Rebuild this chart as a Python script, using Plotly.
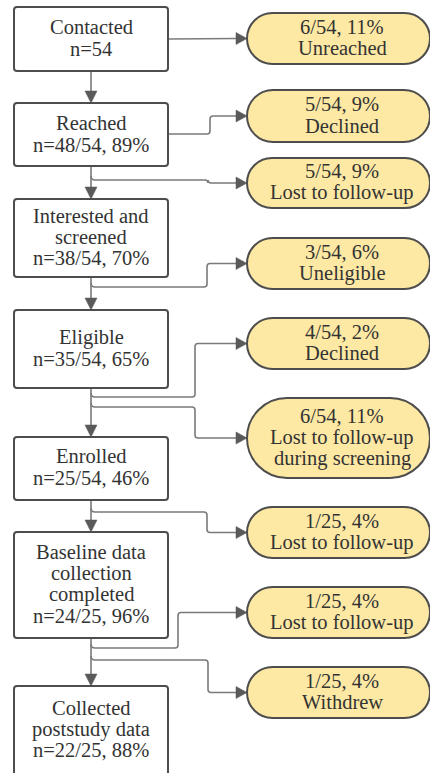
import plotly.graph_objects as go

# ---------------- data ----------------
main_labels = [
    ["Contacted", "n=54"],
    ["Reached", "n=48/54, 89%"],
    ["Interested and", "screened", "n=38/54, 70%"],
    ["Eligible", "n=35/54, 65%"],
    ["Enrolled", "n=25/54, 46%"],
    ["Baseline data", "collection", "completed", "n=24/25, 96%"],
    ["Collected", "poststudy data", "n=22/25, 88%"],
]
side_labels = [
    ["6/54, 11%", "Unreached"],
    ["5/54, 9%", "Declined"],
    ["5/54, 9%", "Lost to follow-up"],
    ["3/54, 6%", "Uneligible"],
    ["4/54, 2%", "Declined"],
    ["6/54, 11%", "Lost to follow-up", "during screening"],
    ["1/25, 4%", "Lost to follow-up"],
    ["1/25, 4%", "Lost to follow-up"],
    ["1/25, 4%", "Withdrew"],
]
# which main box each exclusion branches from
side_source = [0, 1, 1, 2, 3, 3, 4, 5, 5]

# ---------------- layout (pixel-like units) ----------------
W, H = 430, 773
box_x = (14, 168)
box_y = [(7, 71), (103, 166), (199, 277), (310, 388), (437, 500), (532, 638), (686, 778)]
text_cy = [38, 134, 237, 348, 467, 584, 729]
pill_x = (247, 430)
pill_y = [(13, 64), (90, 142), (158, 208), (238, 289), (318, 369), (398, 478), (507, 558), (587, 638), (667, 718)]
# connector: (start mode, start y, elbow x)
conn = [("side", 39, None), ("side", 134, 210), ("trunk", 180, 208), ("trunk", 287, 207),
        ("trunk", 397, 195), ("trunk", 407, 195), ("trunk", 512, 207), ("trunk", 648, 178),
        ("trunk", 660, 208)]

LINE = "#7a7a7a"
HEAD = "#5a5a5a"
BORDER = "#4d4d4d"
PILL_FILL = "#fde8a4"
TXT = "#333333"
FONT = "Liberation Serif"
FS = 20.5
LH = 21.2

shapes = []
trunk_x = (box_x[0] + box_x[1]) / 2


def rrect(x0, y0, x1, y1, r):
    return (f"M {x0+r},{y0} L {x1-r},{y0} Q {x1},{y0} {x1},{y0+r} L {x1},{y1-r} "
            f"Q {x1},{y1} {x1-r},{y1} L {x0+r},{y1} Q {x0},{y1} {x0},{y1-r} "
            f"L {x0},{y0+r} Q {x0},{y0} {x0+r},{y0} Z")


def stadium(x0, y0, x1, y1):
    r = (y1 - y0) / 2
    k = 0.5523 * r
    cy = (y0 + y1) / 2
    return (f"M {x0+r},{y0} L {x1-r},{y0} C {x1-r+k},{y0} {x1},{cy-k} {x1},{cy} "
            f"C {x1},{cy+k} {x1-r+k},{y1} {x1-r},{y1} L {x0+r},{y1} "
            f"C {x0+r-k},{y1} {x0},{cy+k} {x0},{cy} C {x0},{cy-k} {x0+r-k},{y0} {x0+r},{y0} Z")


def head_right(tx, ty):
    return f"M {tx},{ty} L {tx-11},{ty-6} L {tx-11},{ty+6} Z"


def head_down(tx, ty):
    return f"M {tx},{ty} L {tx-6},{ty-12} L {tx+6},{ty-12} Z"


# trunk arrows between main boxes
for i in range(len(box_y) - 1):
    y0 = box_y[i][1]
    y1 = box_y[i + 1][0]
    shapes.append(dict(type="path", path=f"M {trunk_x},{y0} L {trunk_x},{y1-11}",
                       line=dict(color=LINE, width=1.6)))
    shapes.append(dict(type="path", path=head_down(trunk_x, y1), fillcolor=HEAD,
                       line=dict(color=HEAD, width=0.5)))

# branch connectors
for j, (mode, sy, ex) in enumerate(conn):
    ty = (pill_y[j][0] + pill_y[j][1]) / 2
    tx = pill_x[0]
    r = 3
    if mode == "side":
        sx = box_x[1]
        if ex is None:
            p = f"M {sx},{sy} L {tx-10},{ty}"
        else:
            d = 1 if ty > sy else -1
            p = (f"M {sx},{sy} L {ex-r},{sy} Q {ex},{sy} {ex},{sy+d*r} L {ex},{ty-d*r} "
                 f"Q {ex},{ty} {ex+r},{ty} L {tx-10},{ty}")
    else:
        d = 1 if ty > sy else -1
        p = (f"M {trunk_x},{sy-4} Q {trunk_x},{sy} {trunk_x+4},{sy} L {ex-r},{sy} "
             f"Q {ex},{sy} {ex},{sy+d*r} L {ex},{ty-d*r} Q {ex},{ty} {ex+r},{ty} L {tx-10},{ty}")
    shapes.append(dict(type="path", path=p, line=dict(color=LINE, width=1.6)))
    shapes.append(dict(type="path", path=head_right(tx, ty), fillcolor=HEAD,
                       line=dict(color=HEAD, width=0.5)))

fig = go.Figure()

# main boxes
for i, (y0, y1) in enumerate(box_y):
    shapes.append(dict(type="path", path=rrect(box_x[0], y0, box_x[1], y1, 3),
                       fillcolor="white", line=dict(color=BORDER, width=2)))
    lines = main_labels[i]
    n = len(lines)
    for k, t in enumerate(lines):
        fig.add_annotation(x=trunk_x, y=text_cy[i] + (k - (n - 1) / 2) * LH, text=t,
                           showarrow=False, xanchor="center", yanchor="middle",
                           font=dict(family=FONT, size=FS, color=TXT))

# exclusion pills
for j, (y0, y1) in enumerate(pill_y):
    shapes.append(dict(type="path", path=stadium(pill_x[0], y0, pill_x[1], y1),
                       fillcolor=PILL_FILL, line=dict(color=BORDER, width=2)))
    lines = side_labels[j]
    n = len(lines)
    cy = (y0 + y1) / 2 - 1
    for k, t in enumerate(lines):
        fig.add_annotation(x=342, y=cy + (k - (n - 1) / 2) * LH, text=t,
                           showarrow=False, xanchor="center", yanchor="middle",
                           font=dict(family=FONT, size=FS, color=TXT))

fig.update_layout(
    width=W, height=H,
    margin=dict(l=0, r=0, t=0, b=0),
    paper_bgcolor="white", plot_bgcolor="white",
    xaxis=dict(range=[0, W], visible=False, fixedrange=True),
    yaxis=dict(range=[H, 0], visible=False, fixedrange=True),
    shapes=shapes, showlegend=False,
)

fig.write_html("out.html", config={"displayModeBar": False},
               post_script="document.body.style.margin='0';document.body.style.overflow='hidden';")
